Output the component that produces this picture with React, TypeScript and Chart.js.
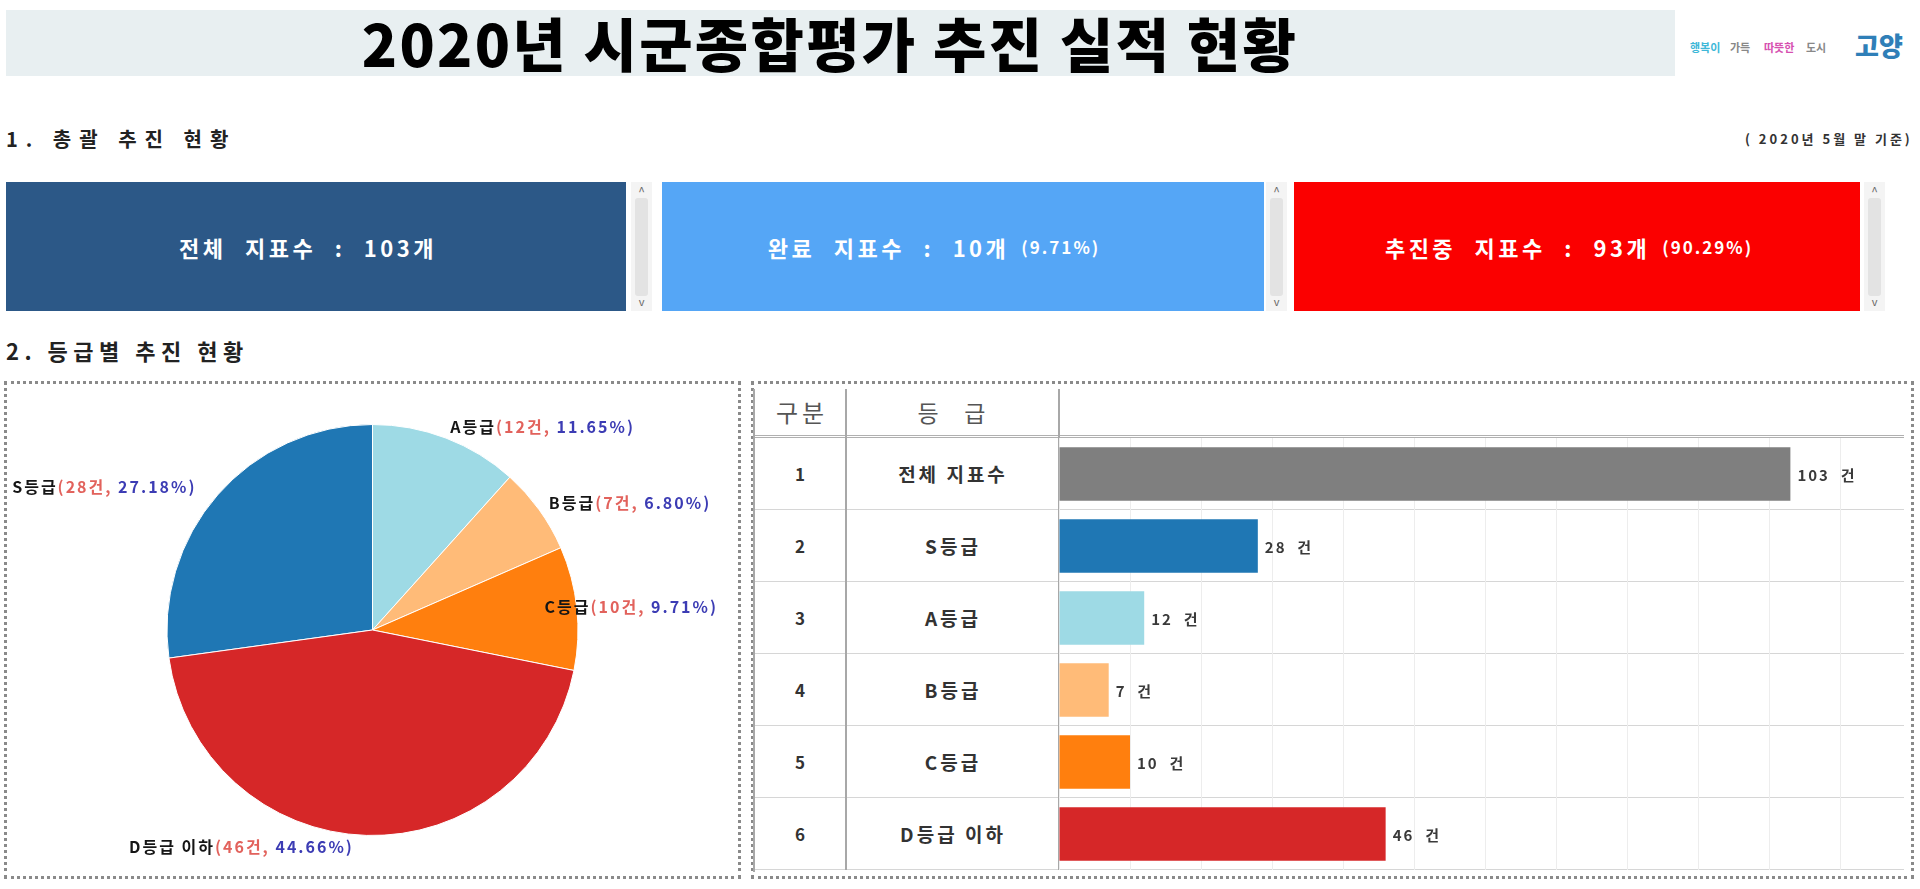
import React, { useEffect, useRef } from "react";
import { Chart, registerables } from "chart.js";

Chart.register(...registerables);

// ---- data ----
const pageTitle = "2020년 시군종합평가 추진 실적 현황";
const section1Title = "1. 총괄 추진 현황";
const section2Title = "2. 등급별 추진 현황";
const baseDateNote = "( 2020년 5월 말 기준)";

const kpiLabels = ["전체 지표수", "완료 지표수", "추진중 지표수"];
const kpiCounts = [103, 10, 93];

const gradeLabels = ["S등급", "A등급", "B등급", "C등급", "D등급 이하"];
const gradeCounts = [28, 12, 7, 10, 46];

const totalLabel = "전체 지표수";
const totalCount = 103;

const barLabels = [totalLabel, ...gradeLabels];
const barValues = [totalCount, ...gradeCounts];
const rowNumbers = ["1", "2", "3", "4", "5", "6"];
const tableHeaders = ["구분", "등     급"];

const gradeColors = ["#1f77b4", "#9edae5", "#ffbb78", "#ff7f0e", "#d62728"];
const barColors = ["#7f7f7f", ...gradeColors];
const kpiColors = ["#2c5887", "#55a6f6", "#fb0000"];

const FONT = '"Noto Sans CJK KR", "Noto Sans", sans-serif';

// ---- plugins ----
const pieLabelPlugin = {
  id: "pieLabels",
  afterDatasetsDraw(chart: any) {
    const { ctx } = chart;
    const meta = chart.getDatasetMeta(0);
    const data: number[] = chart.data.datasets[0].data;
    const total = data.reduce((a, b) => a + b, 0);
    ctx.save();
    ctx.font = `bold 16px ${FONT}`;
    try { ctx.letterSpacing = "2px"; } catch (e) {}
    ctx.textBaseline = "middle";
    ctx.textAlign = "left";
    meta.data.forEach((arc: any, i: number) => {
      const p = arc.getProps(["x", "y", "startAngle", "endAngle", "outerRadius"], true);
      const mid = (p.startAngle + p.endAngle) / 2;
      const r = p.outerRadius + 12;
      const ax = p.x + Math.cos(mid) * r;
      const ay = p.y + Math.sin(mid) * r;
      const parts = [
        { t: chart.data.labels[i], c: "#151515" },
        { t: `(${data[i]}건, `, c: "#e2625c" },
        { t: `${((data[i] / total) * 100).toFixed(2)}%)`, c: "#3c3cb4" },
      ];
      const widths = parts.map((q) => ctx.measureText(q.t).width);
      const w = widths.reduce((a, b) => a + b, 0);
      let sx = Math.cos(mid) >= 0 ? ax : ax - w - 12;
      sx = Math.max(2, Math.min(sx, chart.width - 20 - w));
      parts.forEach((q, k) => {
        ctx.fillStyle = q.c;
        ctx.fillText(q.t, sx, ay);
        sx += widths[k];
      });
    });
    ctx.restore();
  },
};

const barValuePlugin = {
  id: "barValues",
  afterDatasetsDraw(chart: any) {
    const { ctx } = chart;
    const meta = chart.getDatasetMeta(0);
    const data: number[] = chart.data.datasets[0].data;
    ctx.save();
    ctx.font = `bold 15px ${FONT}`;
    try { ctx.letterSpacing = "2px"; } catch (e) {}
    ctx.fillStyle = "#3a3a3a";
    ctx.textBaseline = "middle";
    ctx.textAlign = "left";
    meta.data.forEach((bar: any, i: number) => {
      ctx.fillText(`${data[i]}  건`, bar.x + 7, bar.y + 1);
    });
    ctx.restore();
  },
};

function Scroller({ left }: { left: number }) {
  return (
    <div
      style={{
        position: "absolute",
        left,
        top: 182,
        width: 21,
        height: 129,
        background: "#f4f4f4",
      }}
    >
      <div style={{ position: "absolute", left: 4, top: 16, width: 13, height: 98, background: "#e3e3e3", borderRadius: 3 }} />
      <div style={{ position: "absolute", left: 0, top: 0, width: 21, textAlign: "center", fontSize: 12, color: "#666", fontFamily: FONT }}>^</div>
      <div style={{ position: "absolute", left: 0, bottom: 2, width: 21, textAlign: "center", fontSize: 11, color: "#666", fontFamily: FONT }}>v</div>
    </div>
  );
}

export default function App() {
  const pieRef = useRef<HTMLCanvasElement | null>(null);
  const barRef = useRef<HTMLCanvasElement | null>(null);

  useEffect(() => {
    const gradeTotal = gradeCounts.reduce((a, b) => a + b, 0);
    const pie = new Chart(pieRef.current as HTMLCanvasElement, {
      type: "pie",
      data: {
        labels: gradeLabels,
        datasets: [
          {
            data: gradeCounts,
            backgroundColor: gradeColors,
            borderColor: "#ffffff",
            borderWidth: 1,
          },
        ],
      },
      options: {
        animation: false,
        responsive: true,
        maintainAspectRatio: false,
        rotation: -(gradeCounts[0] / gradeTotal) * 360,
        layout: { padding: { top: 40, bottom: 40, left: 0, right: 0 } },
        plugins: { legend: { display: false }, tooltip: { enabled: false } },
      },
      plugins: [pieLabelPlugin],
    } as any);

    const bar = new Chart(barRef.current as HTMLCanvasElement, {
      type: "bar",
      data: {
        labels: barLabels,
        datasets: [
          {
            data: barValues,
            backgroundColor: barColors,
            barPercentage: 0.74,
            categoryPercentage: 1,
          },
        ],
      },
      options: {
        indexAxis: "y",
        animation: false,
        responsive: true,
        maintainAspectRatio: false,
        layout: { padding: 0 },
        plugins: { legend: { display: false }, tooltip: { enabled: false } },
        scales: {
          x: {
            min: 0,
            max: 119,
            ticks: { display: false, stepSize: 10 },
            grid: { color: "#ededed", drawTicks: false },
            border: { display: false },
          },
          y: { display: false },
        },
      },
      plugins: [barValuePlugin],
    } as any);

    return () => {
      pie.destroy();
      bar.destroy();
    };
  }, []);

  const share = (i: number) => ((kpiCounts[i] / kpiCounts[0]) * 100).toFixed(2) + "%";
  const kpiBoxes = [
    { left: 6, width: 620, pad: 16 },
    { left: 662, width: 602, pad: 58 },
    { left: 1294, width: 566, pad: 16 },
  ];
  const scrollers = [631, 1266, 1864];

  return (
    <div
      style={{
        position: "fixed",
        left: 0,
        top: 0,
        width: 1920,
        height: 889,
        background: "#ffffff",
        overflow: "hidden",
        fontFamily: FONT,
      }}
    >
      {/* title bar */}
      <div
        style={{
          position: "absolute",
          left: 6,
          top: 10,
          width: 1669,
          height: 66,
          background: "#e8eff1",
        }}
      />
      <div
        style={{
          position: "absolute",
          left: 302,
          top: 6,
          width: 1056,
          height: 72,
          lineHeight: "72px",
          textAlign: "center",
          fontSize: 58,
          fontWeight: 900,
          color: "#000",
          letterSpacing: 2.3,
          whiteSpace: "nowrap",
        }}
      >
        {pageTitle}
      </div>
      {/* logo */}
      <div
        style={{
          position: "absolute",
          left: 1690,
          top: 22,
          width: 225,
          height: 50,
          whiteSpace: "nowrap",
          fontSize: 11,
          fontWeight: 700,
        }}
      >
        <span style={{ position: "absolute", left: 0, top: 17, color: "#3fb8d8" }}>행복이</span>
        <span style={{ position: "absolute", left: 40, top: 17, color: "#888" }}>가득</span>
        <span style={{ position: "absolute", left: 74, top: 17, color: "#d64fb0" }}>따뜻한</span>
        <span style={{ position: "absolute", left: 116, top: 17, color: "#888" }}>도시</span>
        <span style={{ position: "absolute", left: 165, top: 4, color: "#2f7fb8", fontSize: 26, fontWeight: 900 }}>고양</span>
      </div>

      {/* section 1 */}
      <div style={{ position: "absolute", left: 6, top: 124, fontSize: 20, fontWeight: 700, letterSpacing: 8, color: "#222", whiteSpace: "nowrap" }}>
        {section1Title}
      </div>
      <div style={{ position: "absolute", left: 1745, top: 129, fontSize: 13, fontWeight: 700, letterSpacing: 3, color: "#333", whiteSpace: "nowrap" }}>
        {baseDateNote}
      </div>

      {kpiBoxes.map((b, i) => (
        <div
          key={i}
          style={{
            position: "absolute",
            left: b.left,
            top: 182,
            width: b.width,
            height: 129,
            background: kpiColors[i],
            color: "#fff",
            display: "flex",
            alignItems: "center",
            justifyContent: "center",
            fontWeight: 700,
            whiteSpace: "nowrap",
            boxSizing: "border-box",
            paddingRight: b.pad,
          }}
        >
          <span style={{ fontSize: 22, letterSpacing: 3.5, wordSpacing: 10 }}>
            {kpiLabels[i]} : {kpiCounts[i]}개
          </span>
          {i > 0 && <span style={{ fontSize: 17, marginLeft: 12, letterSpacing: 2 }}>({share(i)})</span>}
        </div>
      ))}
      {scrollers.map((x, i) => (
        <Scroller key={i} left={x} />
      ))}

      {/* section 2 */}
      <div style={{ position: "absolute", left: 6, top: 334, fontSize: 22, fontWeight: 700, letterSpacing: 5.5, color: "#222", whiteSpace: "nowrap" }}>
        {section2Title}
      </div>

      {/* pie panel */}
      <div
        style={{
          position: "absolute",
          left: 4,
          top: 381,
          width: 737,
          height: 498,
          border: "3px dotted #8a8a8a",
          boxSizing: "border-box",
        }}
      >
        <div style={{ position: "relative", width: "100%", height: "100%" }}>
          <canvas ref={pieRef} />
        </div>
      </div>

      {/* table panel */}
      <div
        style={{
          position: "absolute",
          left: 751,
          top: 381,
          width: 1163,
          height: 498,
          border: "3px dotted #8a8a8a",
          boxSizing: "border-box",
        }}
      />
      <div
        style={{
          position: "absolute",
          left: 753,
          top: 389,
          width: 1151,
          height: 483,
          borderLeft: "2px solid #a8a8a8",
          boxSizing: "border-box",
        }}
      >
        {/* header */}
        <div
          style={{
            position: "absolute",
            left: 0,
            top: 0,
            width: 1149,
            height: 49,
            borderBottom: "3px double #b0b0b0",
            boxSizing: "border-box",
          }}
        >
          <div style={{ position: "absolute", left: 0, top: 0, width: 90, height: 46, lineHeight: "46px", textAlign: "center", fontSize: 24, color: "#555", letterSpacing: 4, textIndent: 4 }}>
            {tableHeaders[0]}
          </div>
          <div style={{ position: "absolute", left: 90, top: 0, width: 213, height: 46, lineHeight: "46px", textAlign: "center", fontSize: 23, color: "#555", whiteSpace: "pre" }}>
            {tableHeaders[1]}
          </div>
        </div>
        {/* rows */}
        {barLabels.map((lab, i) => (
          <div
            key={i}
            style={{
              position: "absolute",
              left: 0,
              top: 49 + i * 72,
              width: 1149,
              height: 72,
              borderBottom: "1px solid #d6d6d6",
              boxSizing: "border-box",
            }}
          >
            <div style={{ position: "absolute", left: 0, top: 0, width: 90, height: 72, lineHeight: "72px", textAlign: "center", fontSize: 17, fontWeight: 700, color: "#333" }}>
              {rowNumbers[i]}
            </div>
            <div style={{ position: "absolute", left: 90, top: 0, width: 213, height: 72, lineHeight: "72px", textAlign: "center", fontSize: 19, fontWeight: 700, color: "#333", letterSpacing: 3, textIndent: 3, whiteSpace: "nowrap" }}>
              {lab}
            </div>
          </div>
        ))}
        {/* column dividers */}
        <div style={{ position: "absolute", left: 90, top: 0, width: 2, height: 481, background: "#a8a8a8" }} />
        <div style={{ position: "absolute", left: 303, top: 0, width: 2, height: 481, background: "#a8a8a8" }} />
      </div>
      {/* bar chart */}
      <div style={{ position: "absolute", left: 1059, top: 438, width: 845, height: 432 }}>
        <canvas ref={barRef} />
      </div>
    </div>
  );
}
